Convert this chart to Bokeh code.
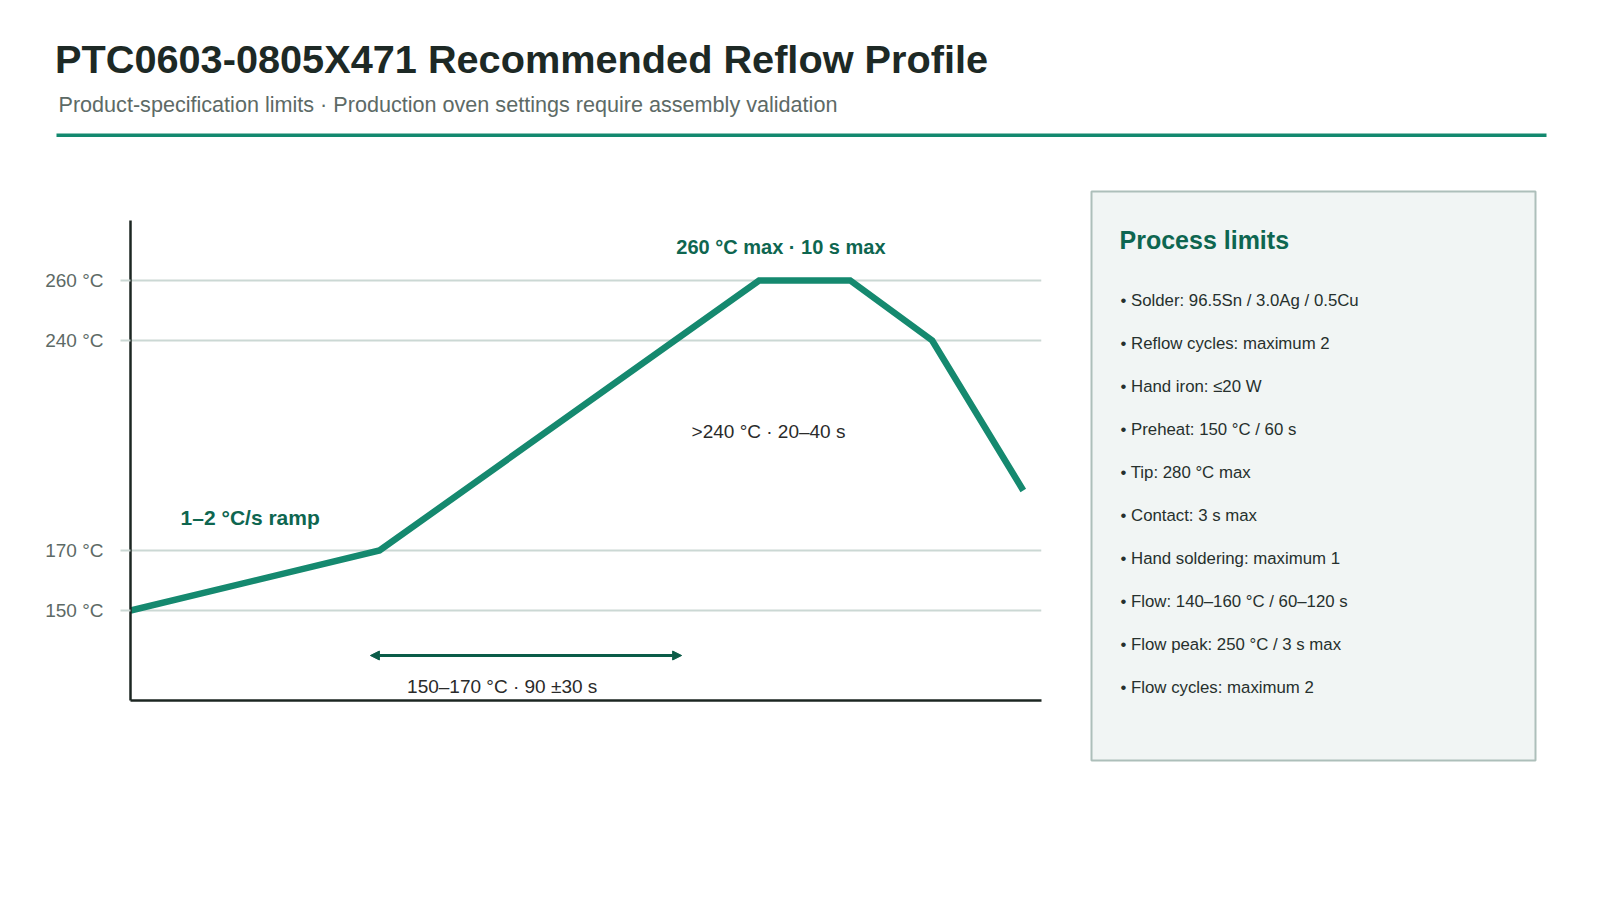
from bokeh.plotting import figure
from bokeh.layouts import column, row
from bokeh.models import (Range1d, FixedTicker, Label, BoxAnnotation, Arrow, NormalHead)
from bokeh.embed import file_html
from bokeh.resources import INLINE

# ---------------- data ----------------
time_s = [0, 82, 207, 237, 264, 294]
temp_c = [150, 170, 260, 260, 240, 190]
y_ticks = [150, 170, 240, 260]
y_tick_labels = ["150 °C", "170 °C", "240 °C", "260 °C"]
soak_arrow = [79, 181.5]          # time span of the soak arrow
soak_arrow_temp = 135
title_text = "PTC0603-0805X471 Recommended Reflow Profile"
subtitle_text = "Product-specification limits · Production oven settings require assembly validation"
panel_title = "Process limits"
panel_items = [
    "Solder: 96.5Sn / 3.0Ag / 0.5Cu",
    "Reflow cycles: maximum 2",
    "Hand iron: ≤20 W",
    "Preheat: 150 °C / 60 s",
    "Tip: 280 °C max",
    "Contact: 3 s max",
    "Hand soldering: maximum 1",
    "Flow: 140–160 °C / 60–120 s",
    "Flow peak: 250 °C / 3 s max",
    "Flow cycles: maximum 2",
]

FONT = "Liberation Sans"
TEAL = "#15896f"
TEAL_DARK = "#0e6650"
GRID = "#cbd8d4"
AXIS = "#1c2622"
GREY = "#5d6a66"

TOTAL_W, TOTAL_H = 1584, 884
HEAD_H = 160
CHART_W = 1060
BODY_H = TOTAL_H - HEAD_H
PANEL_W = TOTAL_W - CHART_W


def blank(w, h, xr, yr):
    f = figure(width=w, height=h, output_backend="svg", toolbar_location=None,
               x_range=xr, y_range=yr, x_axis_type=None, y_axis_type=None,
               min_border=0, frame_align=False)
    f.outline_line_color = None
    f.background_fill_color = "white"
    f.border_fill_color = "white"
    f.xgrid.visible = False
    f.ygrid.visible = False
    return f


# ---------------- header ----------------
head = blank(TOTAL_W, HEAD_H, Range1d(0, TOTAL_W), Range1d(HEAD_H, 0))
head.add_layout(Label(x=54.5, y=58.7, text=title_text, text_font=FONT, text_font_size="39.7px",
                      text_font_style="bold", text_color="#1d2925",
                      text_align="left", text_baseline="middle"))
head.add_layout(Label(x=58, y=103.7, text=subtitle_text, text_font=FONT, text_font_size="21.6px",
                      text_color=GREY, text_align="left", text_baseline="middle"))
head.add_layout(BoxAnnotation(left=56, right=1546, top=133, bottom=136.5,
                              fill_color="#13896f", fill_alpha=1.0, line_color=None))

# ---------------- chart ----------------
FRAME_L, FRAME_T, FRAME_R, FRAME_B = 130, 220 - HEAD_H, 1041, 700 - HEAD_H
p = figure(width=CHART_W, height=BODY_H, output_backend="svg", toolbar_location=None,
           x_range=Range1d(0, 300), y_range=Range1d(120, 280),
           min_border_left=FRAME_L, min_border_right=CHART_W - FRAME_R,
           min_border_top=FRAME_T, min_border_bottom=BODY_H - FRAME_B,
           frame_align=False)
p.outline_line_color = None
p.background_fill_color = "white"
p.border_fill_color = "white"

p.xaxis.ticker = FixedTicker(ticks=[])
p.xaxis.axis_line_color = AXIS
p.xaxis.axis_line_width = 2.5
p.xaxis.major_tick_line_color = None
p.xaxis.minor_tick_line_color = None
p.xaxis.major_label_text_font_size = "0px"

p.yaxis.ticker = FixedTicker(ticks=y_ticks)
p.yaxis.major_label_overrides = {t: l for t, l in zip(y_ticks, y_tick_labels)}
p.yaxis.axis_line_color = AXIS
p.yaxis.axis_line_width = 2.5
p.yaxis.major_tick_line_color = GRID
p.yaxis.major_tick_line_width = 2
p.yaxis.major_tick_out = 10
p.yaxis.major_tick_in = 0
p.yaxis.minor_tick_line_color = None
p.yaxis.major_label_standoff = 17
p.yaxis.major_label_text_font = FONT
p.yaxis.major_label_text_font_size = "19px"
p.yaxis.major_label_text_color = GREY

p.xgrid.visible = False
p.ygrid.ticker = FixedTicker(ticks=y_ticks)
p.ygrid.grid_line_color = GRID
p.ygrid.grid_line_width = 2

p.line(time_s, temp_c, line_color=TEAL, line_width=6.5, line_join="miter")

p.add_layout(Arrow(x_start=soak_arrow[0], x_end=soak_arrow[1],
                   y_start=soak_arrow_temp, y_end=soak_arrow_temp,
                   line_color="#0b5c48", line_width=3,
                   start=NormalHead(size=9, fill_color="#0b5c48", line_color="#0b5c48"),
                   end=NormalHead(size=9, fill_color="#0b5c48", line_color="#0b5c48")))

p.add_layout(Label(x=16.5, y=180.9, text="1–2 °C/s ramp", text_font=FONT,
                   text_font_size="21px", text_font_style="bold", text_color=TEAL_DARK,
                   text_align="left", text_baseline="middle"))
p.add_layout(Label(x=214.2, y=271.2, text="260 °C max · 10 s max", text_font=FONT,
                   text_font_size="20px", text_font_style="bold", text_color=TEAL_DARK,
                   text_align="center", text_baseline="middle"))
p.add_layout(Label(x=210.1, y=209.7, text=">240 °C · 20–40 s", text_font=FONT,
                   text_font_size="19px", text_color="#2a2a2a",
                   text_align="center", text_baseline="middle"))
p.add_layout(Label(x=122.4, y=124.8, text="150–170 °C · 90 ±30 s", text_font=FONT,
                   text_font_size="19px", text_color="#2a2a2a",
                   text_align="center", text_baseline="middle"))

# ---------------- side panel ----------------
panel = blank(PANEL_W, BODY_H, Range1d(CHART_W, TOTAL_W), Range1d(TOTAL_H, HEAD_H))
panel.add_layout(BoxAnnotation(left=1091, right=1535, top=191, bottom=760,
                               fill_color="#f1f5f4", fill_alpha=1.0,
                               line_color="#adbfba", line_width=2, line_alpha=1.0))
panel.add_layout(Label(x=1119, y=239.2, text=panel_title, text_font=FONT,
                       text_font_size="25px", text_font_style="bold", text_color=TEAL_DARK,
                       text_align="left", text_baseline="middle"))
for i, item in enumerate(panel_items):
    panel.add_layout(Label(x=1120, y=300 + 42.96 * i,
                           text="• " + item, text_font=FONT, text_font_size="16.8px",
                           text_color="#26302d", text_align="left", text_baseline="middle"))

layout = column(head, row(p, panel, spacing=0), spacing=0)
open("out.html", "w").write(file_html(layout, INLINE))
